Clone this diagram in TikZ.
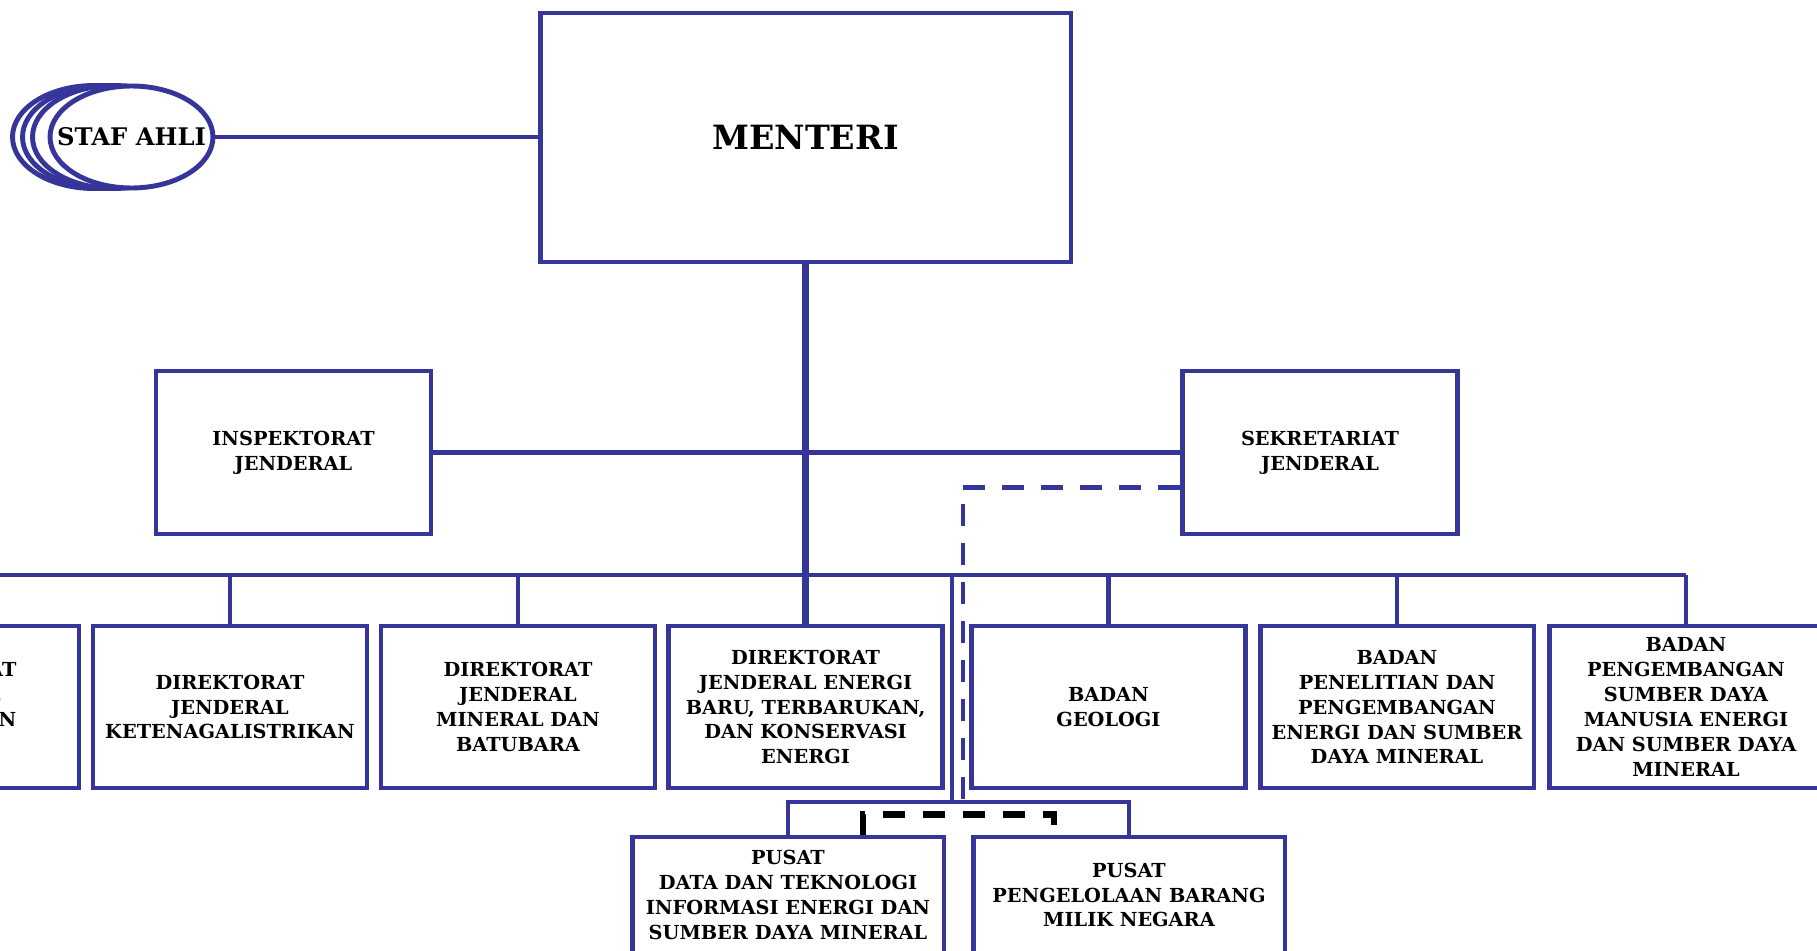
\documentclass[tikz,border=0pt]{standalone}
\usepackage{fontspec}
\setmainfont{DejaVu Serif}
\usepackage{xcolor}
\usepackage{tikz}
\usetikzlibrary{shapes.geometric}
\definecolor{orgblue}{RGB}{54,54,154}
\newcommand{\unitfont}{\fontsize{11}{14.2}\selectfont\bfseries}
\newcommand{\headfont}{\fontsize{19}{22}\selectfont\bfseries}
\newcommand{\staffont}{\fontsize{13.8}{16}\selectfont\bfseries}

\begin{document}
\begin{tikzpicture}[
  x=0.02cm, y=-0.02cm,
  link/.style={draw=orgblue, line width=2.8pt},
  trunk/.style={draw=orgblue, line width=4pt},
  dashlink/.style={draw=orgblue, line width=2.8pt, dash pattern=on 0.44cm off 0.34cm},
  coordlink/.style={draw=black, line width=3.6pt, dash pattern=on 0.44cm off 0.36cm},
  unit/.style={draw=orgblue, line width=2.8pt, fill=white, align=center,
               font=\unitfont, minimum width=5.48cm, minimum height=3.24cm,
               inner sep=1pt},
  pusat/.style={unit, minimum width=6.24cm, minimum height=2.32cm},
]
\useasboundingbox (0,0) rectangle (1817,950);

% === Top: Menteri and Staf Ahli ===
\node[unit, minimum width=10.62cm, minimum height=4.98cm, font=\headfont]
  (menteri) at (805.5,137.5) {MENTERI};

\foreach \dx in {-37,-27,-17} {
  \draw[link, fill=white] (131+\dx,137) ellipse [x radius=1.63cm, y radius=1.03cm];
}
\node[link, fill=white, ellipse, minimum width=3.26cm, minimum height=2.04cm,
      inner xsep=-0.5cm, inner ysep=0pt, font=\staffont] (staf) at (131.5,137)
  {STAF AHLI};

\draw[link] (staf.east) -- (menteri.west |- staf.east);

% === Level 2: Irjen and Setjen ===
\node[unit, minimum width=5.5cm, minimum height=3.26cm] (irjen) at (293.5,452.5)
  {INSPEKTORAT\\JENDERAL};
\node[unit, minimum width=5.5cm, minimum height=3.26cm] (setjen) at (1320,452.5)
  {SEKRETARIAT\\JENDERAL};

% === Level 3: Ditjen and Badan ===
\node[unit] (migas) at (-58,707) {DIREKTORAT\\JENDERAL\\MINYAK DAN\\GAS BUMI};
\node[unit] (gatrik) at (230,707) {DIREKTORAT\\JENDERAL\\KETENAGALISTRIKAN};
\node[unit] (minerba) at (518,707) {DIREKTORAT\\JENDERAL\\MINERAL DAN\\BATUBARA};
\node[unit] (ebtke) at (805.5,707)
  {DIREKTORAT\\JENDERAL ENERGI\\BARU, TERBARUKAN,\\DAN KONSERVASI\\ENERGI};
\node[unit] (geologi) at (1108.5,707) {BADAN\\GEOLOGI};
\node[unit] (litbang) at (1397,707)
  {BADAN\\PENELITIAN DAN\\PENGEMBANGAN\\ENERGI DAN SUMBER\\DAYA MINERAL};
\node[unit] (bpsdm) at (1686,707)
  {BADAN\\PENGEMBANGAN\\SUMBER DAYA\\MANUSIA ENERGI\\DAN SUMBER DAYA\\MINERAL};

% === Level 4: Pusat ===
\node[pusat] (pusdatin) at (788,895)
  {PUSAT\\DATA DAN TEKNOLOGI\\INFORMASI ENERGI DAN\\SUMBER DAYA MINERAL};
\node[pusat] (bmn) at (1129,895) {PUSAT\\PENGELOLAAN BARANG\\MILIK NEGARA};

% === Connectors ===
\coordinate (busL) at (-200,575);
\coordinate (busR) at (1686,575);
\coordinate (pusatjoin) at (952,575);
\coordinate (pusatbar) at (952,802);
\coordinate (dashend) at (963,805);

\draw[trunk] (menteri.south) -- (ebtke.north);
\draw[link] (irjen.east) -- (setjen.west);
\draw[link] (busL) -- (busR);
\foreach \u in {migas,gatrik,minerba,geologi,litbang,bpsdm} {
  \draw[link] (\u.north) -- (\u.north |- busL);
}

\draw[link] (pusatjoin) -- (pusatbar);
\draw[link] (pusdatin.north) |- (pusatbar) -| (bmn.north);

\draw[dashlink] ([yshift=-0.7cm]setjen.west) -| (dashend);
\draw[coordlink] ([xshift=1.5cm]pusdatin.north) -- ++(0,-20)
  -| ([xshift=-1.5cm]bmn.north);

\end{tikzpicture}
\end{document}
